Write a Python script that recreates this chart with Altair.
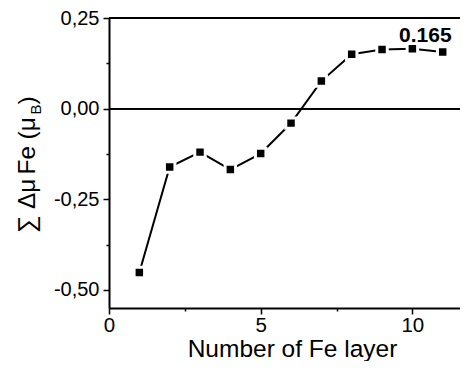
import altair as alt
import pandas as pd

layers = [1, 2, 3, 4, 5, 6, 7, 8, 9, 10, 11]
delta_mu = [-0.452, -0.161, -0.120, -0.168, -0.124, -0.040, 0.076, 0.150, 0.163, 0.165, 0.156]

annot_x = [10]
annot_y = [0.165]
annot_text = ["0.165"]

x_ticks = [0, 2.5, 5, 7.5, 10]
y_ticks = [-0.5, -0.375, -0.25, -0.125, 0, 0.125, 0.25]

FONT = "Liberation Sans"
W, H = 351, 290

df = pd.DataFrame({"n": layers, "v": delta_mu})
ann = pd.DataFrame({"n": annot_x, "v": annot_y, "t": annot_text})

xscale = alt.Scale(domain=[0, 11.57], nice=False, zero=False)
yscale = alt.Scale(domain=[-0.55, 0.25], nice=False, zero=False)

xaxis = alt.Axis(
    values=x_ticks,
    labelExpr="datum.value % 5 == 0 ? format(datum.value, 'd') : ''",
    title="Number of Fe layer",
    titleFont=FONT, titleFontSize=24.5, titleFontWeight="normal", titleColor="black",
    titleBaseline="alphabetic", titleY=48, titleX=183, titleAlign="center",
    labelFont=FONT, labelFontSize=20.5, labelColor="black", labelPadding=1,
    domainColor="black", domainWidth=2,
    tickColor="black", tickWidth=1.5,
    tickSize={"condition": {"test": "datum.value % 5 == 0", "value": 6}, "value": 3},
    grid=False, labelFlush=False, labelOverlap=False,
)
yaxis = alt.Axis(
    values=y_ticks,
    labelExpr="abs(datum.value*8) % 2 == 0 ? replace(replace(format(datum.value, '.2f'), '.', ','), '\u2212', '-') : ''",
    title=None,
    labelFont=FONT, labelFontSize=20, labelColor="black", labelPadding=4,
    domainColor="black", domainWidth=2,
    tickColor="black", tickWidth=1.5,
    tickSize={"condition": {"test": "abs(datum.value*8) % 2 == 0", "value": 6}, "value": 3},
    grid=False, labelFlush=False, labelOverlap=False,
)

base = alt.Chart(df)

zero_line = base.mark_rule(color="black", strokeWidth=1.4).encode(y=alt.datum(0, scale=yscale))
top_line = base.mark_rule(color="black", strokeWidth=1.8).encode(y=alt.datum(0.25, scale=yscale))

line = base.mark_line(color="black", strokeWidth=2).encode(
    x=alt.X("n:Q", scale=xscale, axis=xaxis),
    y=alt.Y("v:Q", scale=yscale, axis=yaxis),
)
pts = base.mark_point(shape="square", filled=True, fill="black", size=110,
                      stroke="white", strokeWidth=3, opacity=1).encode(
    x=alt.X("n:Q", scale=xscale),
    y=alt.Y("v:Q", scale=yscale),
)
label = alt.Chart(ann).mark_text(font=FONT, fontSize=21, fontWeight="bold", color="black",
                                 align="center", baseline="alphabetic", dx=13, dy=-7).encode(
    x=alt.X("n:Q", scale=xscale),
    y=alt.Y("v:Q", scale=yscale),
    text="t:N",
)

# y-axis title "∑ Δμ Fe (μB)" built from pieces so that B can be a subscript
ytitle_parts = ["\u2211", "\u0394\u03bc", "Fe", "(\u03bc", "B", ")"]


def title_piece(txt, px, py, size):
    return alt.Chart(pd.DataFrame({"t": [txt]})).mark_text(
        font=FONT, fontSize=size, angle=270, align="left",
        baseline="alphabetic", color="black").encode(
        x=alt.value(px), y=alt.value(py), text="t:N")


t_pieces = [
    title_piece(ytitle_parts[0], -74, 215, 24.5),
    title_piece(ytitle_parts[1], -74, 191, 24.5),
    title_piece(ytitle_parts[2], -74, 156.5, 24.5),
    title_piece(ytitle_parts[3], -74, 121.5, 24.5),
    title_piece(ytitle_parts[4], -68, 96.5, 15),
    title_piece(ytitle_parts[5], -74, 86.5, 24.5),
]

chart = alt.layer(zero_line, top_line, line, pts, label, *t_pieces).properties(
    width=W, height=H,
    autosize=alt.AutoSizeParams(type="none"),
    padding={"left": 101, "top": 10, "right": 0, "bottom": 53},
).configure_view(strokeWidth=0)

chart.save("out.html", embed_options={"renderer": "svg", "actions": False})
